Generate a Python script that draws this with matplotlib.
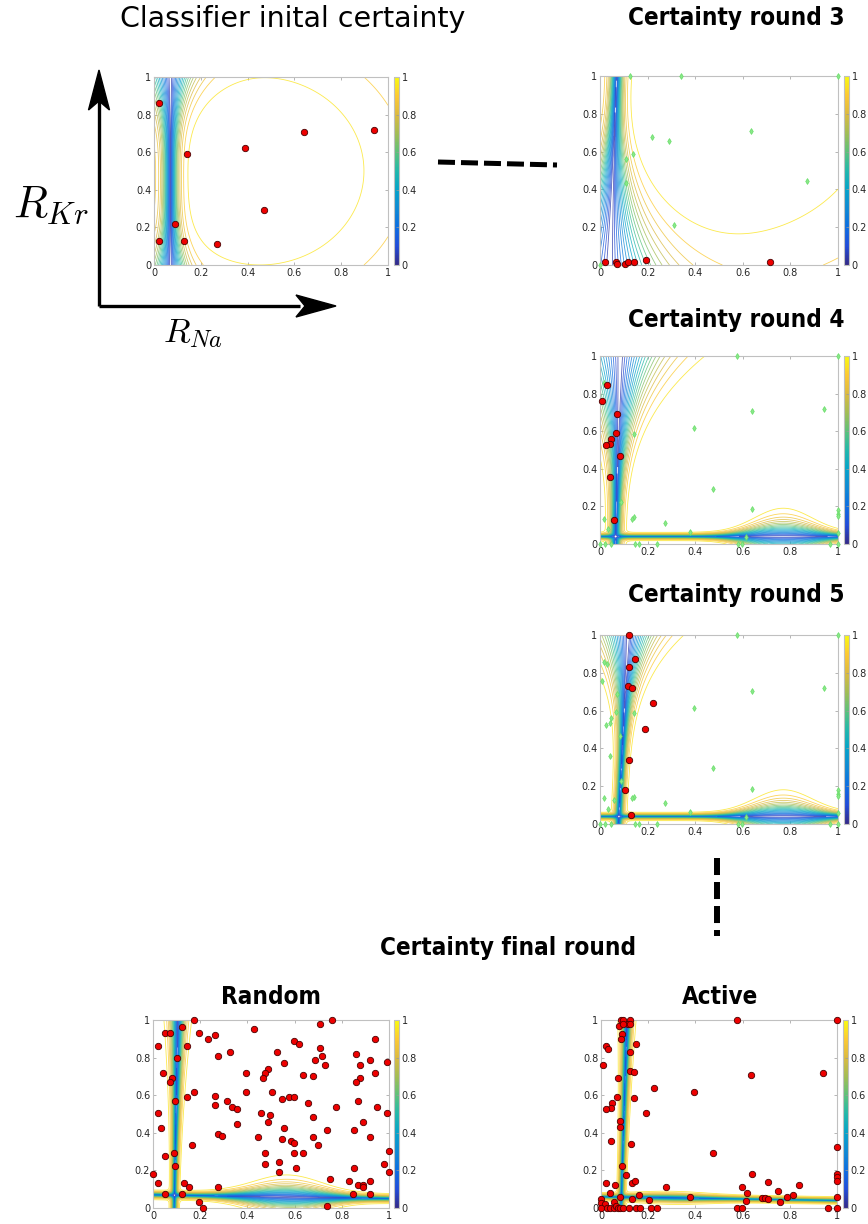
import numpy as np
import matplotlib.pyplot as plt
from matplotlib.colors import LinearSegmentedColormap, Normalize
from matplotlib.cm import ScalarMappable
from matplotlib.patches import Polygon
from matplotlib.ticker import FuncFormatter, FixedLocator

W, H = 868, 1224
plt.rcParams['mathtext.fontset'] = 'cm'

# MATLAB parula-like colours
parula_pos = [0.0, 0.1, 0.2, 0.3, 0.4, 0.5, 0.6, 0.7, 0.8, 0.9, 1.0]
parula_rgb = [(0.208, 0.166, 0.529), (0.13, 0.30, 0.85), (0.05, 0.43, 0.88),
              (0.06, 0.54, 0.83), (0.02, 0.64, 0.79), (0.13, 0.72, 0.67),
              (0.36, 0.76, 0.48), (0.64, 0.74, 0.33), (0.86, 0.73, 0.25),
              (0.99, 0.79, 0.20), (0.976, 0.983, 0.054)]
cmap = LinearSegmentedColormap.from_list('parula', list(zip(parula_pos, parula_rgb)))
norm = Normalize(0, 1)

ticks = [0, 0.2, 0.4, 0.6, 0.8, 1]
tick_labels = ['0', '0.2', '0.4', '0.6', '0.8', '1']
levels = np.arange(0.05, 1.0, 0.05)

# ---- sample points ----
init_red_x = [0.02, 0.14, 0.39, 0.64, 0.94, 0.47, 0.09, 0.02, 0.13, 0.27]
init_red_y = [0.86, 0.59, 0.62, 0.71, 0.72, 0.29, 0.22, 0.13, 0.13, 0.11]

r3_green_x = [0.127, 0.341, 1.0, 0.22, 0.29, 0.635, 0.137, 0.108, 0.108, 0.87, 0.31, 0.0]
r3_green_y = [1.0, 1.0, 1.0, 0.675, 0.656, 0.707, 0.586, 0.563, 0.434, 0.444, 0.212, 0.0]
r3_red_x = [0.02, 0.067, 0.07, 0.105, 0.117, 0.141, 0.192, 0.713]
r3_red_y = [0.014, 0.018, 0.004, 0.004, 0.018, 0.016, 0.025, 0.014]

r4_green_x = [0.018, 0.576, 1.0, 0.638, 0.941, 0.141, 0.396, 0.476, 0.09, 0.64,
              1.0, 1.0, 1.0, 0.144, 0.133, 0.273, 0.018, 0.035, 0.378, 0.613, 1.0,
              0.0, 0.021, 0.045, 0.147, 0.165, 0.238, 0.58, 0.598, 0.967, 1.0]
r4_green_y = [0.858, 1.0, 1.0, 0.706, 0.719, 0.586, 0.616, 0.294, 0.225, 0.184,
              0.18, 0.16, 0.15, 0.145, 0.135, 0.112, 0.135, 0.08, 0.062, 0.035, 0.058,
              0.0, 0.0, 0.0, 0.0, 0.0, 0.0, 0.0, 0.0, 0.0, 0.0]
r4_red_x = [0.031, 0.007, 0.07, 0.067, 0.046, 0.042, 0.024, 0.084, 0.042, 0.06]
r4_red_y = [0.844, 0.758, 0.69, 0.591, 0.559, 0.533, 0.524, 0.466, 0.359, 0.126]

r5_green_x = r4_green_x + r4_red_x
r5_green_y = r4_green_y + r4_red_y
r5_red_x = [0.122, 0.147, 0.123, 0.119, 0.134, 0.222, 0.19, 0.123, 0.103, 0.13]
r5_red_y = [1.0, 0.873, 0.83, 0.731, 0.722, 0.64, 0.504, 0.339, 0.178, 0.049]

random_x = [0.174, 0.757, 0.708, 0.123, 0.427, 0.052, 0.073, 0.194, 0.264, 0.233,
            0.939, 0.596, 0.617, 0.023, 0.144, 0.525, 0.325, 0.708, 0.86, 0.274,
            0.718, 0.103, 0.688, 0.918, 0.99, 0.556, 0.729, 0.879, 0.486, 0.042,
            0.395, 0.476, 0.939, 0.636, 0.465, 0.082, 0.678, 0.879, 0.073, 0.859,
            0.174, 0.395, 0.506, 0.264, 0.576, 0.596, 0.144, 0.093, 0.314, 0.547,
            0.869, 0.657, 0.264, 0.335, 0.355, 0.951, 0.777, 0.99, 0.023, 0.456,
            0.494, 0.677, 0.486, 0.888, 0.355, 0.032, 0.556, 0.85, 0.737, 0.274,
            0.294, 0.445, 0.677, 0.918, 0.547, 0.586, 0.596, 0.164, 0.698, 0.476,
            0.596, 0.637, 0.09, 0.052, 1.0, 0.534, 0.476, 0.979, 0.093, 0.606,
            0.85, 0.535, 1.0, 0.0, 0.749, 0.829, 0.023, 0.133, 0.918, 0.153,
            0.274, 0.869, 0.888, 0.888, 0.052, 0.123, 0.847, 0.918, 0.194, 0.213,
            0.737]
random_y = [1.0, 1.0, 0.98, 0.961, 0.95, 0.929, 0.929, 0.929, 0.922, 0.901,
            0.901, 0.89, 0.871, 0.86, 0.86, 0.83, 0.83, 0.849, 0.819, 0.81,
            0.81, 0.798, 0.789, 0.789, 0.778, 0.77, 0.761, 0.761, 0.739, 0.72,
            0.72, 0.72, 0.72, 0.709, 0.69, 0.69, 0.7, 0.69, 0.67, 0.668,
            0.619, 0.619, 0.619, 0.598, 0.589, 0.589, 0.589, 0.569, 0.569, 0.578,
            0.567, 0.558, 0.548, 0.539, 0.528, 0.537, 0.537, 0.505, 0.505, 0.505,
            0.495, 0.484, 0.456, 0.456, 0.445, 0.426, 0.426, 0.415, 0.415, 0.395,
            0.385, 0.376, 0.376, 0.376, 0.365, 0.356, 0.346, 0.335, 0.335, 0.294,
            0.294, 0.294, 0.294, 0.275, 0.305, 0.245, 0.234, 0.234, 0.225, 0.215,
            0.215, 0.193, 0.193, 0.183, 0.154, 0.144, 0.133, 0.133, 0.144, 0.112,
            0.112, 0.124, 0.124, 0.112, 0.074, 0.074, 0.074, 0.074, 0.034, 0.0,
            0.011]

active_x = [0.083, 0.093, 0.124, 0.576, 1.0, 0.113, 0.078, 0.124, 0.092, 0.09,
            0.083, 0.15, 0.02, 0.031, 0.124, 0.007, 0.121, 0.138, 0.939, 0.637,
            0.071, 0.225, 0.394, 0.068, 0.141, 0.047, 0.042, 0.023, 0.192, 0.082,
            0.081, 0.041, 0.127, 0.476, 0.09, 0.106, 0.64, 1.0, 1.0, 1.0,
            1.0, 0.131, 0.145, 0.02, 0.709, 0.059, 0.274, 0.596, 0.839, 0.037,
            0.162, 0.377, 0.617, 0.749, 0.815, 1.0, 0.133, 0.079, 0.203, 0.682,
            0.696, 0.709, 0.787, 0.613, 0.76, 0.055, 0.0, 0.0, 0.016, 0.0,
            0.024, 0.04, 0.055, 0.065, 0.072, 0.08, 0.092, 0.12, 0.148, 0.167,
            0.213, 0.237, 0.576, 0.597, 0.963, 1.0]
active_y = [1.0, 1.0, 1.0, 1.0, 1.0, 0.98, 0.97, 0.98, 0.98, 0.924,
            0.901, 0.872, 0.86, 0.846, 0.83, 0.759, 0.73, 0.722, 0.718, 0.706,
            0.69, 0.64, 0.615, 0.59, 0.587, 0.558, 0.532, 0.525, 0.504, 0.465,
            0.429, 0.358, 0.34, 0.293, 0.223, 0.176, 0.183, 0.324, 0.181, 0.165,
            0.145, 0.131, 0.144, 0.131, 0.14, 0.124, 0.112, 0.112, 0.122, 0.078,
            0.067, 0.059, 0.078, 0.092, 0.069, 0.057, 0.05, 0.057, 0.041, 0.051,
            0.051, 0.046, 0.057, 0.035, 0.032, 0.03, 0.048, 0.027, 0.02, 0.0,
            0.0, 0.0, 0.0, 0.009, 0.0, 0.0, 0.0, 0.0, 0.0, 0.0,
            0.0, 0.0, 0.0, 0.0, 0.0, 0.0]

# ---- certainty field parameters, estimated from the contour shapes ----
# vertical boundary: x, tilt, width, fan, fan reference y, fan power
# horizontal boundary: y (None = absent), tilt, width, bump height, bump x, bump spread
# fall: global decline centre and strength
field_init = dict(vx=0.07, vt=0.0, vw=0.035, vf=0.4, vref=0.45, vp=3,
                  hy=None, fall=(0.45, 0.5, 0.25, 0.2))
field_r3 = dict(vx=0.04, vt=0.03, vw=0.03, vf=0.19, vref=1.0, vp=2.5,
                hy=None, fall=(0.5, 0.8, 0.125, 0.118))
field_r4 = dict(vx=0.065, vt=0.02, vw=0.024, vf=0.17, vref=0.0, vp=3,
                hy=0.04, ht=0.0, hw=0.012, hb=0.07, hbx=0.77, hbs=0.17, fall=None)
field_r5 = dict(vx=0.078, vt=0.04, vw=0.018, vf=0.11, vref=0.0, vp=4,
                hy=0.04, ht=0.0, hw=0.012, hb=0.065, hbx=0.77, hbs=0.17, fall=None)
field_random = dict(vx=0.09, vt=0.015, vw=0.012, vf=0.02, vref=0.0, vp=2,
                    hy=0.07, ht=-0.02, hw=0.014, hb=0.05, hbx=0.57, hbs=0.2, fall=None)
field_active = dict(vx=0.085, vt=0.025, vw=0.011, vf=0.01, vref=0.0, vp=2,
                    hy=0.06, ht=-0.02, hw=0.011, hb=0.008, hbx=0.3, hbs=0.2, fall=None)


def certainty(X, Y, p):
    wv = p['vw'] + p['vf'] * np.abs(Y - p['vref']) ** p['vp']
    c = np.tanh(np.abs(X - (p['vx'] + p['vt'] * Y)) / wv)
    if p['hy'] is not None:
        wh = p['hw'] + p['hb'] * np.exp(-((X - p['hbx']) / p['hbs']) ** 2)
        c = c * np.tanh(np.abs(Y - (p['hy'] + p['ht'] * X)) / wh)
    if p['fall'] is not None:
        cx, cy, fx, fy = p['fall']
        c = c * (1 - fx * (X - cx) ** 2 - fy * (Y - cy) ** 2)
    return c


def rect(x0, y0, x1, y1):
    return [x0 / W, 1 - y1 / H, (x1 - x0) / W, (y1 - y0) / H]


fig = plt.figure(figsize=(W / 100, H / 100), dpi=100)

# overlay for arrows / dashed connectors
ov = fig.add_axes([0, 0, 1, 1])
ov.set_xlim(0, W)
ov.set_ylim(H, 0)
ov.axis('off')
ov.plot([99, 99], [306, 100], color='k', lw=2.4, solid_capstyle='butt')
ov.plot([99, 300], [306, 306], color='k', lw=2.4, solid_capstyle='butt')
ov.add_patch(Polygon([[99, 70], [88.5, 110], [99, 101], [109.5, 110]], closed=True, color='k'))
ov.add_patch(Polygon([[336, 306], [296, 295], [305, 306], [296, 317]], closed=True, color='k'))
ov.plot([438, 557], [162, 165], color='k', lw=3.6, linestyle=(0, (3.4, 1.2)),
        dash_capstyle='butt')
ov.plot([717, 717], [858, 936], color='k', lw=4.3, linestyle=(0, (2.85, 1.17)),
        dash_capstyle='butt')
ov.text(51, 205, r'$R_{Kr}$', fontsize=32, ha='center', va='center')
ov.text(193, 333, r'$R_{Na}$', fontsize=25, ha='center', va='center')

gx = np.linspace(0, 1, 241)
GX, GY = np.meshgrid(gx, gx)
fmt = FuncFormatter(lambda v, pos: '%g' % round(v, 2))


def panel(ax_px, cb_px, field, red, green=None):
    ax = fig.add_axes(rect(*ax_px))
    ax.contour(GX, GY, certainty(GX, GY, field), levels=levels, cmap=cmap, norm=norm,
               linewidths=0.6, alpha=0.8)
    if green is not None:
        ax.plot(green[0], green[1], 'd', ms=3.0, mfc='#8ae88a', mec='#66dd66', mew=0.5,
                clip_on=False, zorder=4)
    ax.plot(red[0], red[1], 'o', ms=4.6, mfc='#ee0000', mec='#4a0000', mew=0.6,
            clip_on=False, zorder=5)
    ax.set_xlim(0, 1)
    ax.set_ylim(0, 1)
    ax.set_xticks(ticks)
    ax.set_xticklabels(tick_labels)
    ax.set_yticks(ticks)
    ax.set_yticklabels(tick_labels)
    ax.tick_params(direction='in', length=2, width=0.5, color='#999999', labelsize=7,
                   labelcolor='#262626', pad=2, top=True, right=True)
    for s in ax.spines.values():
        s.set_color('#c0c0c0')
        s.set_linewidth(0.8)
    cax = fig.add_axes(rect(*cb_px))
    cb = fig.colorbar(ScalarMappable(norm=norm, cmap=cmap), cax=cax)
    cb.locator = FixedLocator(ticks)
    cb.formatter = fmt
    cb.update_ticks()
    cax.tick_params(labelsize=7, length=2, width=0.5, direction='in', color='#999999',
                    labelcolor='#262626', pad=2)
    cb.outline.set_edgecolor('#c0c0c0')
    cb.outline.set_linewidth(0.8)
    return ax


panel((154, 77, 388, 265), (394, 77, 399, 265), field_init, (init_red_x, init_red_y))
panel((600, 76, 838, 265), (844, 76, 849, 265), field_r3, (r3_red_x, r3_red_y),
      (r3_green_x, r3_green_y))
panel((600, 356, 838, 544), (844, 356, 849, 544), field_r4, (r4_red_x, r4_red_y),
      (r4_green_x, r4_green_y))
panel((600, 635, 838, 824), (844, 635, 849, 824), field_r5, (r5_red_x, r5_red_y),
      (r5_green_x, r5_green_y))
panel((153, 1020, 389, 1208), (394, 1020, 399, 1208), field_random, (random_x, random_y))
panel((601, 1020, 837, 1208), (843, 1020, 848, 1208), field_active, (active_x, active_y))

head = dict(fontsize=17.4, fontweight='bold', fontstretch='condensed',
            ha='center', va='center')
fig.text(293 / W, 1 - 19 / H, 'Classifier inital certainty', fontsize=20.5,
         ha='center', va='center')
fig.text(736 / W, 1 - 18 / H, 'Certainty round 3', **head)
fig.text(736 / W, 1 - 320 / H, 'Certainty round 4', **head)
fig.text(736 / W, 1 - 595 / H, 'Certainty round 5', **head)
fig.text(508 / W, 1 - 948 / H, 'Certainty final round', **head)
fig.text(271 / W, 1 - 997 / H, 'Random', **head)
fig.text(720 / W, 1 - 997 / H, 'Active', **head)

fig.savefig('out.png', dpi=100)
